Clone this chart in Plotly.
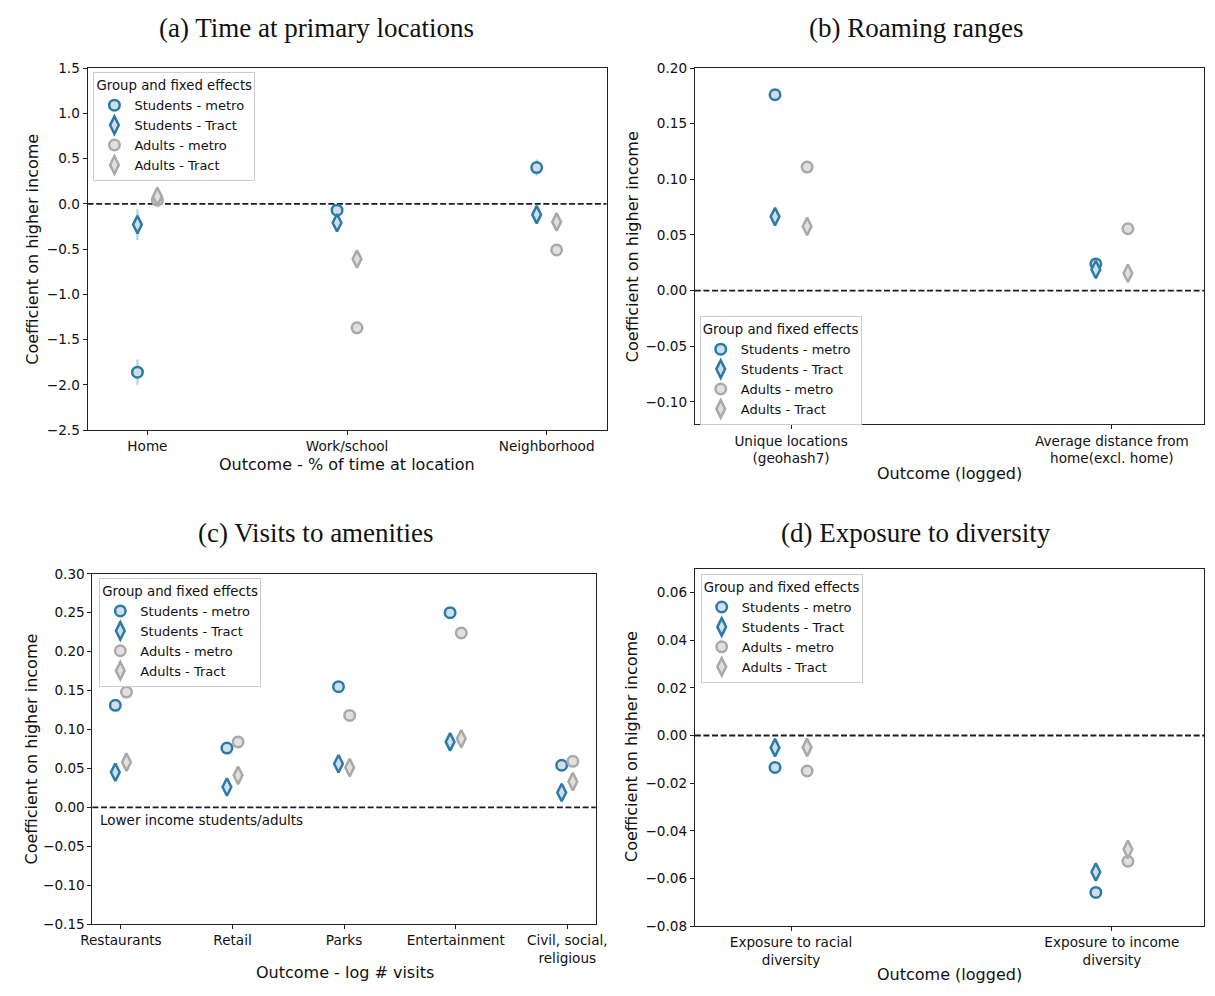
import plotly.graph_objects as go

# group names shared by all panels
groups = ["Students - metro", "Students - Tract", "Adults - metro", "Adults - Tract"]

# (a) Time at primary locations
time_cats = ["Home", "Work/school", "Neighborhood"]
time_stu_metro = [-1.86, -0.07, 0.40]
time_stu_tract = [-0.23, -0.21, -0.12]
time_adu_metro = [0.04, -1.37, -0.51]
time_adu_tract = [0.08, -0.61, -0.20]
time_stu_metro_err = [0.14, 0.05, 0.09]
time_stu_tract_err = [0.17, 0.10, 0.08]
time_adu_metro_err = [0.08, 0.07, 0.06]
time_adu_tract_err = [0.11, 0.06, 0.05]

# (b) Roaming ranges
roam_cats = ["Unique locations<br>(geohash7)", "Average distance from<br>home(excl. home)"]
roam_stu_metro = [0.176, 0.024]
roam_stu_tract = [0.0665, 0.019]
roam_adu_metro = [0.111, 0.0556]
roam_adu_tract = [0.0577, 0.0156]
roam_stu_metro_err = [0.002, 0.002]
roam_stu_tract_err = [0.002, 0.002]
roam_adu_metro_err = [0.001, 0.001]
roam_adu_tract_err = [0.001, 0.001]

# (c) Visits to amenities
visit_cats = ["Restaurants", "Retail", "Parks", "Entertainment", "Civil, social,<br>religious"]
visit_stu_metro = [0.131, 0.076, 0.155, 0.250, 0.054]
visit_stu_tract = [0.045, 0.026, 0.056, 0.084, 0.019]
visit_adu_metro = [0.148, 0.084, 0.118, 0.224, 0.059]
visit_adu_tract = [0.058, 0.041, 0.051, 0.088, 0.033]
visit_stu_metro_err = [0.003, 0.003, 0.004, 0.004, 0.006]
visit_stu_tract_err = [0.003, 0.003, 0.004, 0.004, 0.012]
visit_adu_metro_err = [0.002, 0.002, 0.003, 0.003, 0.004]
visit_adu_tract_err = [0.002, 0.002, 0.003, 0.003, 0.006]

# (d) Exposure to diversity
div_cats = ["Exposure to racial<br>diversity", "Exposure to income<br>diversity"]
div_stu_metro = [-0.0134, -0.0659]
div_stu_tract = [-0.0051, -0.0573]
div_adu_metro = [-0.0149, -0.0528]
div_adu_tract = [-0.0050, -0.0478]
div_stu_metro_err = [0.0006, 0.0006]
div_stu_tract_err = [0.0006, 0.0006]
div_adu_metro_err = [0.0004, 0.0004]
div_adu_tract_err = [0.0004, 0.0004]

STU = "#2c7aa6"
ADU = "#a9a9a9"
STU_FILL = "#cfdee8"
ADU_FILL = "#e0e0e0"
STU_ERR = "#a9cfe3"
ADU_ERR = "#d0d0d0"
FONT = "DejaVu Sans"
W, H = 1215, 996


def px_x(v):
    return v / W


def px_y(v):
    return 1 - v / H


fig = go.Figure()


def add_panel(n, cats, series, errs, legend):
    xa = "x" if n == 1 else "x%d" % n
    ya = "y" if n == 1 else "y%d" % n
    styles = [
        (STU, STU_FILL, STU_ERR, "circle", 10.5, -0.05),
        (STU, STU_FILL, STU_ERR, "diamond-tall", 12.5, -0.05),
        (ADU, ADU_FILL, ADU_ERR, "circle", 10.5, 0.05),
        (ADU, ADU_FILL, ADU_ERR, "diamond-tall", 12.5, 0.05),
    ]
    for name, vals, err, st in zip(groups, series, errs, styles):
        edge, fill, ecol, sym, size, off = st
        fig.add_trace(go.Scatter(
            x=[i + off for i in range(len(cats))],
            y=vals,
            mode="markers",
            name=name,
            legend=legend,
            xaxis=xa,
            yaxis=ya,
            marker=dict(symbol=sym, size=size, color=fill,
                        line=dict(color=edge, width=2.5)),
            error_y=dict(type="data", array=err, color=ecol,
                         thickness=2, width=0),
        ))
    fig.add_shape(type="line", xref="%s domain" % xa, yref=ya,
                  x0=0, x1=1, y0=0, y1=0, layer="below",
                  line=dict(color="#1a1833", width=1.8, dash="6px,2.6px"))


add_panel(1, time_cats,
          [time_stu_metro, time_stu_tract, time_adu_metro, time_adu_tract],
          [time_stu_metro_err, time_stu_tract_err, time_adu_metro_err, time_adu_tract_err],
          "legend")
add_panel(2, roam_cats,
          [roam_stu_metro, roam_stu_tract, roam_adu_metro, roam_adu_tract],
          [roam_stu_metro_err, roam_stu_tract_err, roam_adu_metro_err, roam_adu_tract_err],
          "legend2")
add_panel(3, visit_cats,
          [visit_stu_metro, visit_stu_tract, visit_adu_metro, visit_adu_tract],
          [visit_stu_metro_err, visit_stu_tract_err, visit_adu_metro_err, visit_adu_tract_err],
          "legend3")
add_panel(4, div_cats,
          [div_stu_metro, div_stu_tract, div_adu_metro, div_adu_tract],
          [div_stu_metro_err, div_stu_tract_err, div_adu_metro_err, div_adu_tract_err],
          "legend4")

axis_common = dict(showline=True, mirror=True, linecolor="#222222", linewidth=1,
                   ticks="outside", ticklen=4, tickcolor="#222222",
                   showgrid=False, zeroline=False,
                   tickfont=dict(family=FONT, size=13.6, color="#111111"))

right_end = (1215 - 696) / 327 - 0.3

fig.update_layout(
    xaxis=dict(domain=[px_x(77), px_x(606)], range=[-0.3, 2.3],
               tickvals=list(range(len(time_cats))), ticktext=time_cats,
               anchor="y", **axis_common),
    yaxis=dict(domain=[px_y(429), px_y(61)], range=[-2.5, 1.5], dtick=0.5,
               tickformat=".1f", anchor="x", **axis_common),
    xaxis2=dict(domain=[px_x(696), 1.0], range=[-0.3, right_end],
                tickvals=list(range(len(roam_cats))), ticktext=roam_cats,
                anchor="y2", **axis_common),
    yaxis2=dict(domain=[px_y(423), px_y(61)], range=[-0.12, 0.20], dtick=0.05,
                tickformat=".2f", anchor="x2", **axis_common),
    xaxis3=dict(domain=[px_x(82), px_x(595)], range=[-0.255, 4.255],
                tickvals=list(range(len(visit_cats))), ticktext=visit_cats,
                anchor="y3", **axis_common),
    yaxis3=dict(domain=[px_y(931), px_y(575)], range=[-0.15, 0.30], dtick=0.05,
                tickformat=".2f", anchor="x3", **axis_common),
    xaxis4=dict(domain=[px_x(696), 1.0], range=[-0.3, right_end],
                tickvals=list(range(len(div_cats))), ticktext=div_cats,
                anchor="y4", **axis_common),
    yaxis4=dict(domain=[px_y(933), px_y(570)], range=[-0.08, 0.07], dtick=0.02,
                tick0=0, tickformat=".2f", anchor="x4", **axis_common),
)

legend_common = dict(
    title=dict(text="Group and fixed effects", font=dict(family=FONT, size=13.3)),
    font=dict(family=FONT, size=13, color="#111111"),
    bgcolor="rgba(255,255,255,0.8)", bordercolor="#cccccc", borderwidth=1,
    xanchor="left", yanchor="top", tracegroupgap=0, itemwidth=30,
)
fig.update_layout(
    legend=dict(x=px_x(83), y=px_y(65), **legend_common),
    legend2=dict(x=px_x(701), y=px_y(313), **legend_common),
    legend3=dict(x=px_x(89), y=px_y(579), **legend_common),
    legend4=dict(x=px_x(702), y=px_y(575), **legend_common),
)

# panel captions
captions = [
    ("(a) Time at primary locations", 310, 20),
    ("(b) Roaming ranges", 921, 20),
    ("(c) Visits to amenities", 310, 534),
    ("(d) Exposure to diversity", 921, 534),
]
for text, cx, cy in captions:
    fig.add_annotation(text=text, xref="paper", yref="paper",
                       x=px_x(cx), y=px_y(cy), showarrow=False,
                       xanchor="center", yanchor="middle",
                       font=dict(family="Liberation Serif", size=27, color="#111111"))

# axis titles
ytitles = [(20, 245), (632, 243), (20, 753), (632, 751)]
for cx, cy in ytitles:
    fig.add_annotation(text="Coefficient on higher income", xref="paper", yref="paper",
                       x=px_x(cx), y=px_y(cy), showarrow=False, textangle=-90,
                       xanchor="center", yanchor="middle",
                       font=dict(family=FONT, size=16, color="#111111"))

xtitles = [
    ("Outcome - % of time at location", 341, 464),
    ("Outcome (logged)", 956, 473),
    ("Outcome - log # visits", 339, 980),
    ("Outcome (logged)", 956, 982),
]
for text, cx, cy in xtitles:
    fig.add_annotation(text=text, xref="paper", yref="paper",
                       x=px_x(cx), y=px_y(cy), showarrow=False,
                       xanchor="center", yanchor="middle",
                       font=dict(family=FONT, size=16, color="#111111"))

fig.add_annotation(text="Lower income students/adults", xref="x3 domain", yref="y3",
                   x=0.012, y=0, yshift=-13, showarrow=False,
                   xanchor="left", yanchor="middle",
                   font=dict(family=FONT, size=13.5, color="#111111"))

fig.update_layout(
    width=W, height=H,
    margin=dict(l=0, r=0, t=0, b=0),
    plot_bgcolor="white", paper_bgcolor="white",
    showlegend=True,
    font=dict(family=FONT, size=13, color="#111111"),
)

# drop the default body margin so the figure fills the window exactly
fig.write_html("out.html",
               config={"displayModeBar": False},
               post_script="document.body.style.margin='0';"
                           "document.body.style.overflow='hidden';")
